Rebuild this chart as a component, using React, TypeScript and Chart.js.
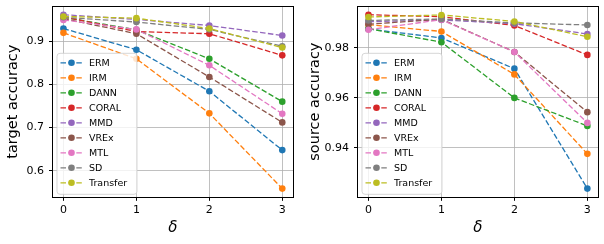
import React, { useEffect, useRef } from 'react';
import { Chart, registerables } from 'chart.js';

Chart.register(...registerables);

const deltas = [0, 1, 2, 3];
const xTicks = [0, 1, 2, 3];
const methods = ['ERM', 'IRM', 'DANN', 'CORAL', 'MMD', 'VREx', 'MTL', 'SD', 'Transfer'];
const colors = ['#1f77b4', '#ff7f0e', '#2ca02c', '#d62728', '#9467bd', '#8c564b', '#e377c2', '#7f7f7f', '#bcbd22'];

// target accuracy (left panel)
const targetERM = [0.929, 0.880, 0.784, 0.648];
const targetIRM = [0.919, 0.859, 0.733, 0.559];
const targetDANN = [0.955, 0.926, 0.859, 0.760];
const targetCORAL = [0.956, 0.922, 0.917, 0.867];
const targetMMD = [0.961, 0.950, 0.936, 0.913];
const targetVREx = [0.952, 0.917, 0.817, 0.712];
const targetMTL = [0.949, 0.927, 0.844, 0.732];
const targetSD = [0.955, 0.944, 0.927, 0.888];
const targetTransfer = [0.957, 0.953, 0.929, 0.885];
const targetYTicks = [0.6, 0.7, 0.8, 0.9];

// source accuracy (right panel)
const sourceERM = [0.9876, 0.9840, 0.9717, 0.9237];
const sourceIRM = [0.9893, 0.9866, 0.9694, 0.9376];
const sourceDANN = [0.9877, 0.9823, 0.9600, 0.9488];
const sourceCORAL = [0.9933, 0.9925, 0.9890, 0.9772];
const sourceMMD = [0.9905, 0.9912, 0.9897, 0.9856];
const sourceVREx = [0.9895, 0.9915, 0.9784, 0.9543];
const sourceMTL = [0.9873, 0.9913, 0.9784, 0.9500];
const sourceSD = [0.9910, 0.9916, 0.9900, 0.9892];
const sourceTransfer = [0.9924, 0.9932, 0.9906, 0.9845];
const sourceYTicks = [0.94, 0.96, 0.98];

const targetSeries = [targetERM, targetIRM, targetDANN, targetCORAL, targetMMD, targetVREx, targetMTL, targetSD, targetTransfer];
const sourceSeries = [sourceERM, sourceIRM, sourceDANN, sourceCORAL, sourceMMD, sourceVREx, sourceMTL, sourceSD, sourceTransfer];

const FONT = "'DejaVu Sans', sans-serif";
const DASH = [5.5, 2.4];

const mplPlugin = {
  id: 'mplFrameLegend',
  afterDraw(chart: any) {
    const { ctx, chartArea: a } = chart;
    ctx.save();
    // spines
    ctx.strokeStyle = '#000';
    ctx.lineWidth = 1;
    ctx.setLineDash([]);
    const l = Math.floor(a.left) + 0.5;
    const t = Math.floor(a.top) + 0.5;
    const r = Math.floor(a.right) + 0.5;
    const b = Math.floor(a.bottom) + 0.5;
    ctx.strokeRect(l, t, r - l, b - t);

    // legend
    const bw = 80;
    const bh = 141;
    const bx = a.left + 4;
    const by = a.bottom - 3.5 - bh;
    ctx.beginPath();
    if ((ctx as any).roundRect) (ctx as any).roundRect(bx + 0.5, by + 0.5, bw, bh, 3);
    else ctx.rect(bx + 0.5, by + 0.5, bw, bh);
    ctx.fillStyle = 'rgba(255,255,255,0.8)';
    ctx.fill();
    ctx.strokeStyle = 'rgba(204,204,204,0.8)';
    ctx.lineWidth = 1;
    ctx.stroke();

    chart.data.datasets.forEach((ds: any, i: number) => {
      const y = by + 10 + i * 15;
      ctx.strokeStyle = ds.borderColor;
      ctx.lineWidth = 1.3;
      ctx.setLineDash(DASH);
      ctx.beginPath();
      ctx.moveTo(bx + 4, y);
      ctx.lineTo(bx + 26, y);
      ctx.stroke();
      ctx.setLineDash([]);
      ctx.fillStyle = ds.borderColor;
      ctx.beginPath();
      ctx.arc(bx + 15, y, 3.3, 0, Math.PI * 2);
      ctx.fill();
      ctx.fillStyle = '#000';
      ctx.font = `9.5px ${FONT}`;
      ctx.textAlign = 'left';
      ctx.textBaseline = 'middle';
      ctx.fillText(ds.label, bx + 32.5, y + 0.5);
    });
    ctx.restore();
  },
};

function makeChart(canvas: HTMLCanvasElement, series: number[][], yTicks: number[], yLabel: string, yDecimals: number, yWidth: number, padRight: number) {
  let lo = Infinity;
  let hi = -Infinity;
  series.forEach((s) => s.forEach((v) => { lo = Math.min(lo, v); hi = Math.max(hi, v); }));
  const m = (hi - lo) * 0.05;
  const datasets = series.map((s, i) => ({
    label: methods[i],
    data: deltas.map((d, j) => ({ x: d, y: s[j] })),
    borderColor: colors[i],
    backgroundColor: colors[i],
    borderWidth: 1.3,
    borderDash: DASH,
    pointRadius: 3.3,
    pointHoverRadius: 3.3,
    pointBorderWidth: 0,
    pointBackgroundColor: colors[i],
    tension: 0,
    order: series.length - i,
    clip: false,
  }));
  return new Chart(canvas, {
    type: 'line',
    data: { datasets },
    plugins: [mplPlugin],
    options: {
      animation: false,
      responsive: false,
      devicePixelRatio: 1,
      events: [],
      layout: { padding: { left: 0, right: padRight, top: 6, bottom: 0 } },
      plugins: { legend: { display: false }, tooltip: { enabled: false } },
      scales: {
        x: {
          type: 'linear',
          min: -0.15,
          max: 3.15,
          afterBuildTicks: (sc: any) => { sc.ticks = xTicks.map((v) => ({ value: v })); },
          afterFit: (sc: any) => { sc.height = 46.7; sc.paddingLeft = 0; sc.paddingRight = 0; },
          grid: { color: '#b0b0b0', lineWidth: 0.8, tickColor: '#000', tickLength: 3.5, tickWidth: 1 },
          border: { display: false },
          ticks: { color: '#000', font: { family: FONT, size: 11 }, padding: 3, maxRotation: 0, autoSkip: false, callback: (v: any) => String(v) },
          title: { display: true, text: 'δ', color: '#000', font: { family: FONT, size: 15, style: 'italic' }, padding: { top: 0, bottom: 7 } },
        },
        y: {
          type: 'linear',
          min: lo - m,
          max: hi + m,
          afterBuildTicks: (sc: any) => { sc.ticks = yTicks.map((v) => ({ value: v })); },
          afterFit: (sc: any) => { sc.width = yWidth; sc.paddingTop = 0; sc.paddingBottom = 0; },
          grid: { color: '#b0b0b0', lineWidth: 0.8, tickColor: '#000', tickLength: 3.5, tickWidth: 1 },
          border: { display: false },
          ticks: { color: '#000', font: { family: FONT, size: 11 }, padding: 5, autoSkip: false, callback: (v: any) => Number(v).toFixed(yDecimals) },
          title: { display: true, text: yLabel, color: '#000', font: { family: FONT, size: 14.5 }, padding: { top: 4.5, bottom: 0 } },
        },
      },
    } as any,
  });
}

export default function App() {
  const leftRef = useRef<HTMLCanvasElement>(null);
  const rightRef = useRef<HTMLCanvasElement>(null);
  useEffect(() => {
    const c1 = makeChart(leftRef.current!, targetSeries, targetYTicks, 'target accuracy', 1, 52.5, 8.8);
    const c2 = makeChart(rightRef.current!, sourceSeries, sourceYTicks, 'source accuracy', 2, 55.5, 5.7);
    return () => { c1.destroy(); c2.destroy(); };
  }, []);
  return (
    <div style={{ position: 'absolute', left: 0, top: 0, width: 604, height: 244, background: '#fff' }}>
      <canvas ref={leftRef} width={302} height={244} style={{ position: 'absolute', left: 0, top: 0, width: 302, height: 244 }} />
      <canvas ref={rightRef} width={302} height={244} style={{ position: 'absolute', left: 302, top: 0, width: 302, height: 244 }} />
    </div>
  );
}
